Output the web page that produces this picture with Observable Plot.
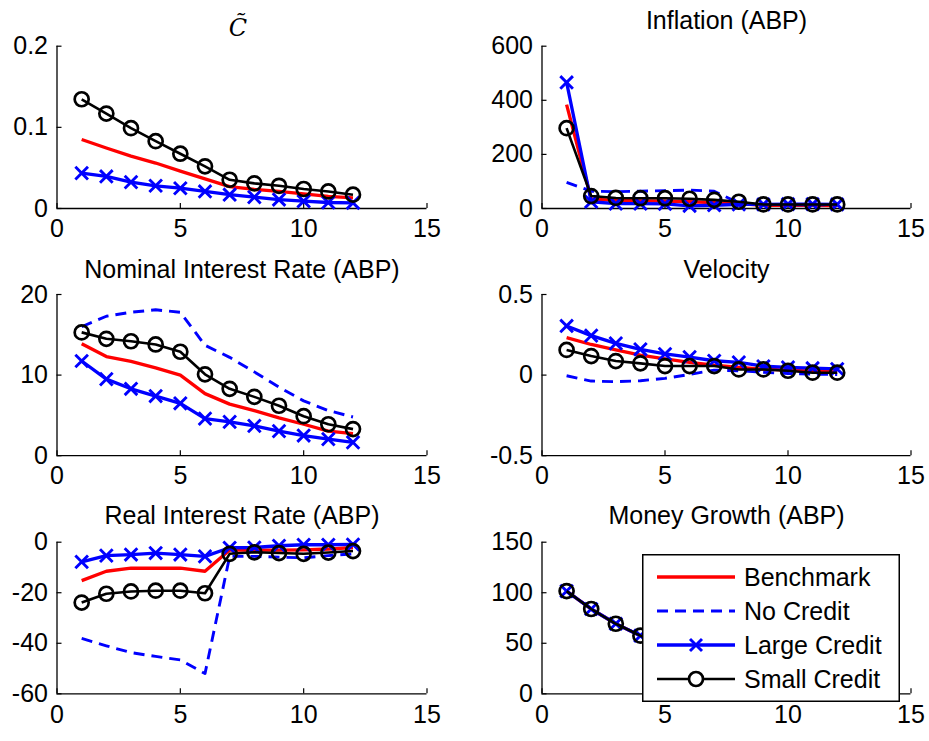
<!DOCTYPE html>
<html><head><meta charset="utf-8">
<script src="https://cdn.jsdelivr.net/npm/d3@7"></script>
<script src="https://cdn.jsdelivr.net/npm/@observablehq/plot@0.6"></script>
<style>
body{margin:0;background:#fff;}
#fig{position:relative;width:929px;height:741px;background:#fff;overflow:hidden;}
#fig svg{position:absolute;overflow:visible;}
</style></head><body><div id="fig"></div>
<script>
const FONT = '"Liberation Sans", Arial, Helvetica, sans-serif';
const periods = [1,2,3,4,5,6,7,8,9,10,11,12];
const xTicks = [0,5,10,15];
const seriesNames = ["Benchmark","No Credit","Large Credit","Small Credit"];

// C tilde
const cBenchmark = [0.085,0.0745,0.0646,0.056,0.046,0.0366,0.027,0.0235,0.021,0.018,0.015,0.013];
const cLarge     = [0.0436,0.0395,0.0325,0.028,0.025,0.021,0.017,0.014,0.011,0.009,0.0074,0.007];
const cSmall     = [0.1346,0.117,0.099,0.083,0.0675,0.052,0.0354,0.031,0.028,0.024,0.021,0.017];
// Inflation (ABP)
const infBenchmark = [384,35,30,28,27,25,22,18,12,12,12,11];
const infNoCredit  = [97,64,62,64,66,68,64,20,15,14,14,13];
const infLarge     = [466,25,18,18,17,10,12,15,15,16,16,15];
const infSmall     = [297,46,39,38,38,36,32,25,15,15,15,15];
// Nominal interest rate (ABP)
const nomBenchmark = [13.9,12.3,11.7,10.9,10.0,7.7,6.4,5.6,4.7,3.9,3.05,2.75];
const nomNoCredit  = [16.0,17.3,17.8,18.1,17.8,13.7,12.2,10.4,8.5,6.8,5.6,4.8];
const nomLarge     = [11.75,9.5,8.3,7.4,6.5,4.6,4.2,3.7,3.05,2.5,2.06,1.65];
const nomSmall     = [15.3,14.5,14.2,13.8,12.9,10.1,8.3,7.3,6.2,4.9,3.9,3.3];
// Velocity
const velBenchmark = [0.232,0.19,0.156,0.124,0.1,0.079,0.062,0.048,0.037,0.031,0.025,0.02];
const velNoCredit  = [-0.004,-0.037,-0.041,-0.035,-0.02,0.004,0.031,0.027,0.017,0.01,0.006,0.004];
const velLarge     = [0.305,0.245,0.197,0.16,0.131,0.112,0.089,0.079,0.055,0.048,0.043,0.038];
const velSmall     = [0.156,0.118,0.087,0.073,0.056,0.056,0.056,0.035,0.035,0.027,0.015,0.015];
// Real interest rate (ABP)
const realBenchmark = [-15.2,-11.5,-10.3,-10.3,-10.3,-11.5,-3.1,-3.1,-3.1,-3.0,-2.7,-2.1];
const realNoCredit  = [-38.1,-41,-43.7,-45.2,-46.6,-52,-5.6,-5.6,-5.9,-6.2,-5.3,-4.6];
const realLarge     = [-7.8,-5.3,-4.9,-4.3,-4.9,-5.6,-2.2,-2.1,-1.4,-1.0,-1.0,-0.9];
const realSmall     = [-23.9,-20.4,-19.5,-19.2,-19.2,-20.2,-4.6,-4.0,-4.3,-4.6,-4.1,-3.5];
// Money growth (ABP) — identical across cases
const moneyGrowth = [101.6,83.9,69.3,57.5,48,40,33,28,23,19,16,13];

const panels = [
  {title:"C\u0303", math:true, yDomain:[0,0.2], yTicks:[0,0.1,0.2], data:[cBenchmark,null,cLarge,cSmall], col:0, row:0},
  {title:"Inflation (ABP)", yDomain:[0,600], yTicks:[0,200,400,600], data:[infBenchmark,infNoCredit,infLarge,infSmall], col:1, row:0},
  {title:"Nominal Interest Rate (ABP)", yDomain:[0,20], yTicks:[0,10,20], data:[nomBenchmark,nomNoCredit,nomLarge,nomSmall], col:0, row:1},
  {title:"Velocity", yDomain:[-0.5,0.5], yTicks:[-0.5,0,0.5], data:[velBenchmark,velNoCredit,velLarge,velSmall], col:1, row:1},
  {title:"Real Interest Rate (ABP)", yDomain:[-60,0], yTicks:[-60,-40,-20,0], data:[realBenchmark,realNoCredit,realLarge,realSmall], col:0, row:2},
  {title:"Money Growth (ABP)", yDomain:[0,150], yTicks:[0,50,100,150], data:[moneyGrowth,moneyGrowth,moneyGrowth,moneyGrowth], col:1, row:2}
];

// layout (pixels)
const cols = [
  {left:0, width:465, mL:56.5, mR:38.5},
  {left:465, width:464, mL:76.5, mR:18.5}
];
const rows = [
  {top:0, height:245, mT:45.7, mB:37, titleDy:-17.7},
  {top:245, height:245, mT:49, mB:34.8, titleDy:-17},
  {top:490, height:251, mT:51.7, mB:47.7, titleDy:-18.7}
];

const styles = [
  {stroke:"#ff0000", strokeWidth:3.3},
  {stroke:"#0000ff", strokeWidth:2.9, dash:"11,7"},
  {stroke:"#0000ff", strokeWidth:3.3, marker:"times"},
  {stroke:"#000000", strokeWidth:2.6, marker:"circle"}
];

const fig = document.getElementById("fig");
const table = vals => periods.map((t,i) => ({t, v: vals[i]}));
const fmt = d => String(d);

for (const p of panels) {
  const c = cols[p.col], r = rows[p.row];
  const plotW = c.width - c.mL - c.mR;
  const plotH = r.height - r.mT - r.mB;
  const marks = [
    Plot.ruleX([0], {stroke:"black", strokeWidth:1.3}),
    Plot.ruleY([p.yDomain[0]], {stroke:"black", strokeWidth:1.3}),
    Plot.tickX(xTicks, {x:d=>d, insetTop: plotH - 5, stroke:"black", strokeWidth:1.2}),
    Plot.tickY(p.yTicks, {y:d=>d, insetRight: plotW - 5, stroke:"black", strokeWidth:1.2})
  ];
  p.data.forEach((vals, i) => {
    if (!vals) return;
    const s = styles[i];
    const d = table(vals);
    marks.push(Plot.line(d, {x:"t", y:"v", stroke:s.stroke, strokeWidth:s.strokeWidth,
      strokeDasharray:s.dash, strokeLinejoin:"round", strokeLinecap:"butt"}));
    if (s.marker === "times") {
      marks.push(Plot.dot(d, {x:"t", y:"v", symbol:"times", r:5.8, stroke:s.stroke, strokeWidth:2.9}));
    } else if (s.marker === "circle") {
      marks.push(Plot.dot(d, {x:"t", y:"v", symbol:"circle", r:7, stroke:s.stroke, strokeWidth:2.7, fill:"none"}));
    }
  });
  if (p.math) {
    marks.push(Plot.text([p.title], {text:d=>d, frameAnchor:"top", dx:-4, dy:-10.5, lineAnchor:"bottom",
      fontSize:24, fontStyle:"italic", fontFamily:'"DejaVu Serif", "Liberation Serif", serif', fill:"black"}));
  } else {
    marks.push(Plot.text([p.title], {text:d=>d, frameAnchor:"top", dy:r.titleDy, lineAnchor:"bottom",
      fontSize:25, fontFamily:FONT, fill:"black"}));
  }
  const svg = Plot.plot({
    width:c.width, height:r.height,
    marginLeft:c.mL, marginRight:c.mR, marginTop:r.mT, marginBottom:r.mB,
    style:{fontSize:"25px", fontFamily:FONT, background:"transparent", color:"black"},
    x:{domain:[0,15], ticks:xTicks, tickSize:0, tickPadding:11, tickFormat:fmt, label:null},
    y:{domain:p.yDomain, ticks:p.yTicks, tickSize:0, tickPadding:9, tickFormat:fmt, label:null},
    marks
  });
  svg.style.left = c.left + "px";
  svg.style.top = r.top + "px";
  svg.style.maxWidth = "none";
  fig.appendChild(svg);
}

// legend (in Money Growth panel)
const lg = d3.select(fig).append("svg")
  .attr("width", 258).attr("height", 148)
  .style("left", "642px").style("top", "554px");
lg.append("rect").attr("x",0.75).attr("y",0.75).attr("width",256.5).attr("height",146.5)
  .attr("fill","white").attr("stroke","black").attr("stroke-width",1.5);
seriesNames.forEach((name, i) => {
  const s = styles[i];
  const y = 23 + i * 34;
  lg.append("line").attr("x1",15).attr("x2",93).attr("y1",y).attr("y2",y)
    .attr("stroke", s.stroke).attr("stroke-width", s.strokeWidth)
    .attr("stroke-dasharray", s.dash || null);
  if (s.marker === "times") {
    lg.append("path").attr("d", "M48,"+(y-6)+"L60,"+(y+6)+"M48,"+(y+6)+"L60,"+(y-6))
      .attr("stroke", s.stroke).attr("stroke-width", 2.9);
  } else if (s.marker === "circle") {
    lg.append("circle").attr("cx",54).attr("cy",y).attr("r",7)
      .attr("fill","white").attr("stroke",s.stroke).attr("stroke-width",2.7);
  }
  lg.append("text").attr("x",102).attr("y",y).attr("dy","0.35em")
    .attr("font-family", FONT).attr("font-size", 25).attr("fill","black").text(name);
});
</script>
</body></html>
